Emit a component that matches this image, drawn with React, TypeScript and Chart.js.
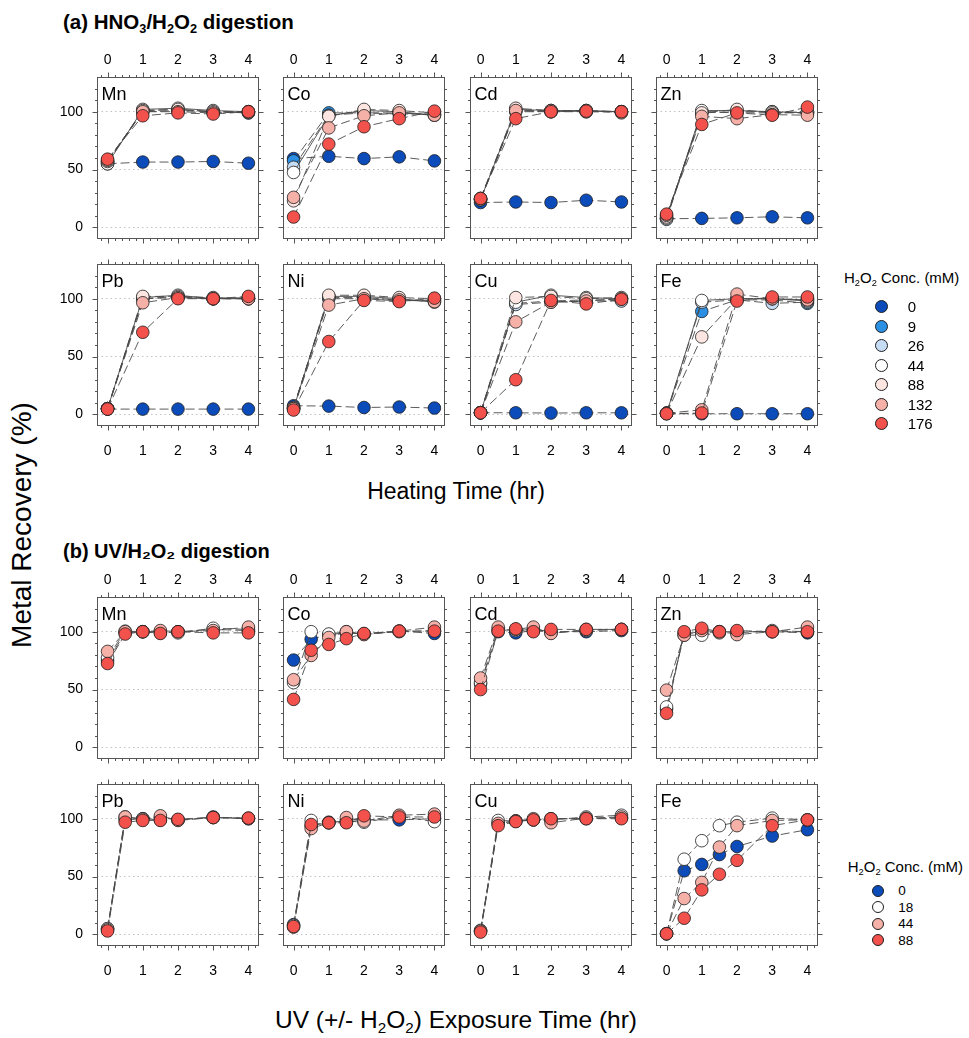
import React, { useEffect, useRef } from 'react';
import { Chart, registerables } from 'chart.js';

Chart.register(...registerables);

const FONT = '"Liberation Sans", Arial, Helvetica, sans-serif';

// ---------- data ----------
const heatTimes = [0, 1, 2, 3, 4];
const uvTimes = [0, 0.5, 1, 1.5, 2, 3, 4];
const xTickValues = [0, 1, 2, 3, 4];
const yTickValues = [0, 50, 100];

const concA = ['0', '9', '26', '44', '88', '132', '176'];
const colorsA = ['#0b4cba', '#2b8fe3', '#c6dcf4', '#ffffff', '#fde6e1', '#f5b0a8', '#f2514c'];
const dashA = [[9, 4], [9, 4], [9, 4], [], [9, 4], [9, 4], [9, 4]];

const concB = ['0', '18', '44', '88'];
const colorsB = ['#0b4cba', '#ffffff', '#f5b0a8', '#f2514c'];
const dashB = [[9, 4], [9, 4], [9, 4], [9, 4]];

// (a) HNO3/H2O2 digestion, one row per H2O2 conc (0,9,26,44,88,132,176), columns = heating time 0..4 hr
const aMn = [
  [55, 56.5, 56.5, 57, 55.5],
  [57, 100, 101, 100, 99],
  [56, 101, 102, 100, 99],
  [55, 102, 103, 101, 100],
  [57, 101, 102, 100, 100],
  [58, 100, 100, 99, 100],
  [59, 96.5, 99, 98, 100],
];
const aCo = [
  [59.5, 61.5, 59.5, 61, 57.5],
  [57.5, 99, 99, 98, 98],
  [52, 97, 99, 99, 97],
  [47.5, 96.5, 101, 100, 97],
  [23, 96, 102, 101, 99],
  [26, 86, 96.5, 99, 97],
  [9, 72, 87, 94, 100.5],
];
const aCd = [
  [21.5, 22, 21.5, 23.5, 22],
  [24, 100, 100, 100, 100],
  [24, 101, 100, 101, 100],
  [24, 102, 101, 101, 100],
  [25, 103, 101, 101, 99],
  [25, 101, 101, 100, 100],
  [25, 94, 100, 100.5, 100],
];
const aZn = [
  [7.5, 7.8, 8.3, 9.2, 8.3],
  [8, 100, 99, 99, 99],
  [7, 99, 100, 100, 99],
  [8, 101, 101, 100, 99],
  [9, 99, 102, 99, 100],
  [10.5, 96, 94, 97.5, 97],
  [11.5, 89, 99, 97, 104],
];
const aPb = [
  [4.6, 4.6, 4.6, 4.6, 4.6],
  [5, 100, 101, 100, 100],
  [5, 100, 102, 100, 100],
  [5, 101, 103, 100, 101],
  [5, 102, 102, 101, 100],
  [5, 96.5, 101, 100, 100],
  [4.6, 71, 100, 100, 102],
];
const aNi = [
  [7.5, 7.2, 6, 6.4, 5.5],
  [6, 100, 100, 98, 99],
  [6, 101, 101, 99, 98],
  [5, 102, 102, 100, 97],
  [5, 103, 103, 101, 100],
  [5, 94.5, 100, 99, 97.5],
  [3.8, 63, 98.5, 97.5, 100.5],
];
const aCu = [
  [1.5, 1.4, 1.2, 1.4, 1.4],
  [1.5, 96, 98, 99, 99],
  [1.5, 95, 97, 98, 98],
  [1.5, 97, 103, 101, 100],
  [1.5, 101, 102, 100, 101],
  [1.5, 80, 97, 98, 100],
  [1.4, 30, 98.5, 95.5, 99.5],
];
const aFe = [
  [0.6, 0.6, 0.6, 0.6, 0.6],
  [1, 89, 99, 99, 96],
  [1, 97, 99, 96, 97],
  [1, 98.5, 100, 100, 98],
  [1, 67, 100, 100, 99],
  [1, 4, 104, 100, 99],
  [0.6, 1.2, 98, 101.5, 101.5],
];

// (b) UV/H2O2 digestion, one row per H2O2 conc (0,18,44,88), columns = exposure time 0,0.5,1,1.5,2,3,4 hr
const bMn = [
  [75, 99, 100, 99, 100, 102, 101],
  [77.5, 100.5, 100, 100, 99, 103, 102],
  [83, 100, 100, 101, 100, 101, 104],
  [72.5, 98, 100, 98.5, 100, 99, 99],
];
const bCo = [
  [75.5, 93.5, 97.5, 99, 98, 100.5, 98.5],
  [56, 100, 98, 100, 98, 100, 101],
  [58.5, 79.5, 95, 100, 97.5, 100.5, 104],
  [41.5, 84, 89, 94, 98.5, 100.5, 100.5],
];
const bCd = [
  [55, 100, 99, 101, 100, 100, 101],
  [56, 102, 101, 102, 99, 101, 102],
  [60, 104, 102, 104, 98.5, 102, 102],
  [50, 100.5, 102.5, 100, 102, 102, 102],
];
const bZn = [
  [33, 99, 99, 100, 100, 100, 99],
  [35, 97, 97, 99, 99, 101, 100],
  [49.5, 97, 101, 100, 97.5, 100, 104],
  [29.5, 100, 103, 100, 101, 100, 100],
];
const bPb = [
  [5, 99, 100, 99, 99, 101.5, 100],
  [5, 101.5, 100, 101, 99, 101, 100],
  [4, 101.5, 99.5, 102.5, 98.5, 101, 100.5],
  [3, 97, 98.5, 98.5, 99.5, 101, 100.5],
];
const bNi = [
  [8.5, 94, 96.5, 97, 99, 99, 100],
  [7.8, 98.5, 97, 98, 97, 102, 97.5],
  [6.3, 91.5, 96.5, 101, 98, 103, 104],
  [6.9, 95, 96.5, 96.5, 102.5, 101.5, 101.5],
];
const bCu = [
  [3, 96, 98, 99, 100, 100, 101],
  [3.5, 98.5, 98, 99, 99, 101.5, 103],
  [3, 96, 98, 100, 96.5, 100.5, 101.5],
  [2, 94, 97.5, 99, 100, 100, 100],
];
const bFe = [
  [0.6, 55, 60.5, 69, 76, 85, 90.5],
  [0.6, 65, 81, 94, 97, 100.5, 99],
  [0.6, 31, 45, 75.5, 94, 98.5, 99],
  [0.6, 14, 38.5, 52, 64, 94, 99],
];

const metalsTop = ['Mn', 'Co', 'Cd', 'Zn'];
const metalsBottom = ['Pb', 'Ni', 'Cu', 'Fe'];

// ---------- layout ----------
const BOX_W = 162;
const BOX_H = 162;
const PAD_L = 50;
const PAD_T = 35;
const PAD_R = 20;
const PAD_B = 35;
const CW = BOX_W + PAD_L + PAD_R;
const CH = BOX_H + PAD_T + PAD_B;
const colLefts = [97, 283, 470, 656];
const rowTops = [77, 264, 597, 784];

const X_MIN = -0.3;
const X_MAX = 4.3;
const Y_MIN = -10;
const Y_MAX = 130;

const framePlugin = {
  id: 'panelFrame',
  beforeDatasetsDraw(chart: any, _args: any, opts: any) {
    const { ctx, chartArea: a, scales } = chart;
    const xs = scales.x;
    const ys = scales.y;
    ctx.save();
    ctx.strokeStyle = '#555';
    ctx.lineWidth = 1;
    const L = Math.round(a.left) + 0.5;
    const R = Math.round(a.right) - 0.5;
    const T = Math.round(a.top) + 0.5;
    const B = Math.round(a.bottom) - 0.5;
    ctx.strokeRect(L, T, R - L, B - T);
    ctx.beginPath();
    // x ticks (minor every 0.2, major every 1)
    for (let k = -1; k <= 21; k++) {
      const v = k * 0.2;
      if (v <= X_MIN || v >= X_MAX) continue;
      const major = k % 5 === 0;
      const len = major ? 5 : 2.5;
      const px = Math.round(xs.getPixelForValue(v)) + 0.5;
      ctx.moveTo(px, T);
      ctx.lineTo(px, T - len);
      ctx.moveTo(px, B);
      ctx.lineTo(px, B + len);
    }
    // y ticks (minor every 10, major every 50)
    for (let v = Y_MIN + 10; v < Y_MAX; v += 10) {
      const major = v % 50 === 0;
      const len = major ? 5 : 2.5;
      const py = Math.round(ys.getPixelForValue(v)) + 0.5;
      ctx.moveTo(L, py);
      ctx.lineTo(L - len, py);
      ctx.moveTo(R, py);
      ctx.lineTo(R + len, py);
    }
    ctx.stroke();
    ctx.fillStyle = '#000';
    ctx.font = '18px ' + FONT;
    ctx.textBaseline = 'alphabetic';
    ctx.fillText(opts.name, a.left + 4.5, a.top + 23);
    ctx.restore();
  },
};

type PanelProps = {
  name: string;
  left: number;
  top: number;
  times: number[];
  series: number[][];
  labels: string[];
  colors: string[];
  dashes: number[][];
  showLeft: boolean;
  showTop: boolean;
  showBottom: boolean;
};

function Panel(p: PanelProps) {
  const ref = useRef<HTMLCanvasElement>(null);
  useEffect(() => {
    const n = p.series.length;
    const tickFont = { family: FONT, size: 14 };
    const xBase = (show: boolean, position: 'top' | 'bottom', padding: number) => ({
      type: 'linear' as const,
      position,
      min: X_MIN,
      max: X_MAX,
      afterBuildTicks: (s: any) => {
        s.ticks = xTickValues.map((v) => ({ value: v }));
      },
      afterFit: (s: any) => {
        s.height = position === 'top' ? PAD_T : PAD_B;
      },
      grid: { display: false },
      border: { display: false },
      ticks: { display: show, padding, font: tickFont, color: '#000', maxRotation: 0 },
    });
    const chart = new Chart(ref.current as HTMLCanvasElement, {
      type: 'line',
      data: {
        datasets: p.series.map((vals, i) => ({
          label: p.labels[i],
          data: p.times.map((t, j) => ({ x: t, y: vals[j] })),
          xAxisID: 'x',
          yAxisID: 'y',
          order: n - 1 - i,
          borderColor: '#4a4a4a',
          borderWidth: 0.9,
          borderDash: p.dashes[i],
          backgroundColor: p.colors[i],
          pointBackgroundColor: p.colors[i],
          pointBorderColor: '#1e1e1e',
          pointBorderWidth: 0.8,
          pointRadius: 6.3,
          fill: false,
          tension: 0,
          clip: false as any,
        })),
      },
      options: {
        animation: false,
        responsive: false,
        events: [],
        layout: { padding: { left: 0, right: PAD_R, top: 0, bottom: 0 }, autoPadding: false },
        plugins: {
          legend: { display: false },
          tooltip: { enabled: false },
          panelFrame: { name: p.name },
        } as any,
        scales: {
          x: xBase(p.showBottom, 'bottom', 9),
          x2: xBase(p.showTop, 'top', 0),
          y: {
            type: 'linear',
            position: 'left',
            min: Y_MIN,
            max: Y_MAX,
            afterBuildTicks: (s: any) => {
              s.ticks = yTickValues.map((v) => ({ value: v }));
            },
            afterFit: (s: any) => {
              s.width = PAD_L;
            },
            grid: { drawTicks: false, color: '#c2c2c2', lineWidth: 1 },
            border: { display: false, dash: [1.5, 3] },
            ticks: { display: p.showLeft, padding: 14, font: tickFont, color: '#000' },
          },
        } as any,
      },
      plugins: [framePlugin],
    });
    return () => chart.destroy();
  }, []);
  return (
    <canvas
      ref={ref}
      width={CW}
      height={CH}
      style={{ position: 'absolute', left: p.left - PAD_L, top: p.top - PAD_T, width: CW, height: CH }}
    />
  );
}

// ---------- text helpers ----------
const Sub = ({ children }: { children: React.ReactNode }) => (
  <span style={{ fontSize: '0.62em', position: 'relative', top: '0.32em' }}>{children}</span>
);

function Txt(props: {
  x: number;
  baseline: number;
  fs: number;
  bold?: boolean;
  center?: boolean;
  children: React.ReactNode;
}) {
  const { x, baseline, fs, bold, center, children } = props;
  const top = baseline - 0.8465 * fs;
  const style: React.CSSProperties = {
    position: 'absolute',
    top,
    fontFamily: FONT,
    fontSize: fs,
    lineHeight: fs + 'px',
    fontWeight: bold ? 'bold' : 'normal',
    whiteSpace: 'nowrap',
    color: '#000',
  };
  if (center) {
    style.left = x - 300;
    style.width = 600;
    style.textAlign = 'center';
  } else {
    style.left = x;
  }
  return <div style={style}>{children}</div>;
}

function Legend(props: {
  titleX: number;
  titleBaseline: number;
  titleFs: number;
  markerX: number;
  labelX: number;
  firstY: number;
  stepY: number;
  size: number;
  fs: number;
  labels: string[];
  colors: string[];
}) {
  const p = props;
  return (
    <>
      <Txt x={p.titleX} baseline={p.titleBaseline} fs={p.titleFs}>
        H<Sub>2</Sub>O<Sub>2</Sub> Conc. (mM)
      </Txt>
      {p.labels.map((lab, i) => {
        const cy = p.firstY + i * p.stepY;
        return (
          <React.Fragment key={lab}>
            <div
              style={{
                position: 'absolute',
                left: p.markerX - p.size / 2,
                top: cy - p.size / 2,
                width: p.size,
                height: p.size,
                borderRadius: '50%',
                boxSizing: 'border-box',
                border: '1px solid #1e1e1e',
                background: p.colors[i],
              }}
            />
            <Txt x={p.labelX} baseline={cy + 0.358 * p.fs} fs={p.fs}>
              {lab}
            </Txt>
          </React.Fragment>
        );
      })}
    </>
  );
}

export default function App() {
  const rows = [
    { metals: metalsTop, data: [aMn, aCo, aCd, aZn], times: heatTimes, labels: concA, colors: colorsA, dashes: dashA, top: true },
    { metals: metalsBottom, data: [aPb, aNi, aCu, aFe], times: heatTimes, labels: concA, colors: colorsA, dashes: dashA, top: false },
    { metals: metalsTop, data: [bMn, bCo, bCd, bZn], times: uvTimes, labels: concB, colors: colorsB, dashes: dashB, top: true },
    { metals: metalsBottom, data: [bPb, bNi, bCu, bFe], times: uvTimes, labels: concB, colors: colorsB, dashes: dashB, top: false },
  ];
  return (
    <div style={{ position: 'absolute', left: 0, top: 0, width: 969, height: 1038, background: '#fff', overflow: 'hidden' }}>
      <Txt x={63} baseline={29.3} fs={20.5} bold>
        (a) HNO<Sub>3</Sub>/H<Sub>2</Sub>O<Sub>2</Sub> digestion
      </Txt>
      <Txt x={63} baseline={557.5} fs={20} bold>
        (b) UV/H₂O₂ digestion
      </Txt>
      {rows.map((r, ri) =>
        r.metals.map((m, ci) => (
          <Panel
            key={ri + '-' + m}
            name={m}
            left={colLefts[ci]}
            top={rowTops[ri]}
            times={r.times}
            series={r.data[ci]}
            labels={r.labels}
            colors={r.colors}
            dashes={r.dashes}
            showLeft={ci === 0}
            showTop={r.top}
            showBottom={!r.top}
          />
        ))
      )}
      <Txt x={456} baseline={499.5} fs={23} center>
        Heating Time (hr)
      </Txt>
      <Txt x={456} baseline={1029} fs={24.5} center>
        UV (+/- H<Sub>2</Sub>O<Sub>2</Sub>) Exposure Time (hr)
      </Txt>
      <div
        style={{
          position: 'absolute',
          left: 22 - 300,
          top: 525 - 14,
          width: 600,
          height: 28,
          lineHeight: '28px',
          fontSize: 28,
          fontFamily: FONT,
          textAlign: 'center',
          whiteSpace: 'nowrap',
          transform: 'rotate(-90deg)',
          transformOrigin: '50% 50%',
          color: '#000',
        }}
      >
        Metal Recovery (%)
      </div>
      <Legend
        titleX={844}
        titleBaseline={282.7}
        titleFs={15}
        markerX={881}
        labelX={907.7}
        firstY={306.7}
        stepY={19.5}
        size={13}
        fs={15}
        labels={concA}
        colors={colorsA}
      />
      <Legend
        titleX={847.7}
        titleBaseline={871.7}
        titleFs={15}
        markerX={878.3}
        labelX={898.3}
        firstY={890.7}
        stepY={16.5}
        size={12}
        fs={13.5}
        labels={concB}
        colors={colorsB}
      />
    </div>
  );
}
